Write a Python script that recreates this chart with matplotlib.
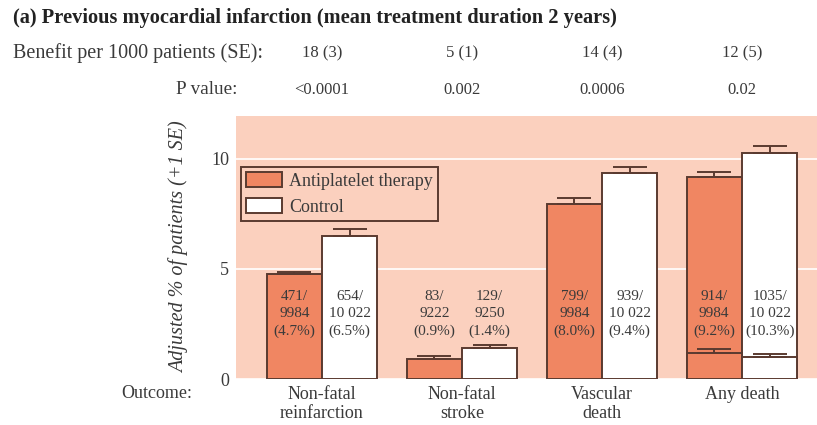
import numpy as np
import matplotlib.pyplot as plt

# values
categories = ['Non-fatal\nreinfarction', 'Non-fatal\nstroke', 'Vascular\ndeath', 'Any death']
benefit = ['18 (3)', '5 (1)', '14 (4)', '12 (5)']
p_values = ['<0.0001', '0.002', '0.0006', '0.02']
treat_pct = [4.77, 0.91, 7.95, 9.18]
treat_se = [0.11, 0.14, 0.29, 0.22]
ctrl_pct = [6.50, 1.42, 9.35, 10.29]
ctrl_se = [0.32, 0.13, 0.27, 0.31]
# non-vascular part of "any death"
nonvasc_treat = 1.17
nonvasc_treat_se = 0.18
nonvasc_ctrl = 0.99
nonvasc_ctrl_se = 0.13
treat_counts = ['471/\n9984\n(4.7%)', '83/\n9222\n(0.9%)', '799/\n9984\n(8.0%)', '914/\n9984\n(9.2%)']
ctrl_counts = ['654/\n10 022\n(6.5%)', '129/\n9250\n(1.4%)', '939/\n10 022\n(9.4%)', '1035/\n10 022\n(10.3%)']
yticks = [0, 5, 10]

bg = '#FBD0BE'
orange = '#F08662'
edge = '#5A3A30'
txt = '#3A3A3A'

plt.rcParams['font.family'] = ['Liberation Serif', 'DejaVu Serif']

fig = plt.figure(figsize=(8.17, 4.25), dpi=100)
ax = fig.add_axes([0.2889, 0.1082, 0.7111, 0.6189])
ax.set_facecolor(bg)

x = np.arange(len(categories))
w = 0.396
ax.bar(x - w / 2, treat_pct, w, color=orange, edgecolor=edge, linewidth=1.4, label='Antiplatelet therapy', zorder=3)
ax.bar(x + w / 2, ctrl_pct, w, color='white', edgecolor=edge, linewidth=1.4, label='Control', zorder=3)
ax.errorbar(x - w / 2, treat_pct, yerr=[np.zeros(len(x)), treat_se], fmt='none',
            ecolor=edge, elinewidth=1.4, capsize=12, capthick=1.4, zorder=4)
ax.errorbar(x + w / 2, ctrl_pct, yerr=[np.zeros(len(x)), ctrl_se], fmt='none',
            ecolor=edge, elinewidth=1.4, capsize=12, capthick=1.4, zorder=4)

# non-vascular segment inside the "any death" bars
ax.bar(x[3] - w / 2, nonvasc_treat, w, color=orange, edgecolor=edge, linewidth=1.4, zorder=3)
ax.bar(x[3] + w / 2, nonvasc_ctrl, w, color='white', edgecolor=edge, linewidth=1.4, zorder=3)
ax.errorbar([x[3] - w / 2, x[3] + w / 2], [nonvasc_treat, nonvasc_ctrl],
            yerr=[[0, 0], [nonvasc_treat_se, nonvasc_ctrl_se]], fmt='none',
            ecolor=edge, elinewidth=1.4, capsize=12, capthick=1.4, zorder=4)

for i in x:
    ax.text(i - w / 2, 2.95, treat_counts[i], ha='center', va='center', fontsize=11,
            color=txt, linespacing=1.45, zorder=5)
    ax.text(i + w / 2, 2.95, ctrl_counts[i], ha='center', va='center', fontsize=11,
            color=txt, linespacing=1.45, zorder=5)

ax.set_xlim(-0.614, 3.536)
ax.set_ylim(0, 11.95)
ax.set_yticks(yticks)
ax.set_yticklabels([str(t) for t in yticks], fontsize=13, color=txt)
ax.yaxis.grid(True, color='white', linewidth=1.2, zorder=1)
ax.set_axisbelow(True)
ax.tick_params(axis='y', length=0, pad=5)
ax.tick_params(axis='x', length=0, pad=5)
ax.set_xticks(x)
ax.set_xticklabels(categories, fontsize=13, color=txt, linespacing=1.15)
for s in ax.spines.values():
    s.set_visible(False)
ax.set_ylabel('Adjusted % of patients (+1 SE)', fontsize=14.5, style='italic', color=txt, labelpad=16)

leg = ax.legend(loc='upper left', bbox_to_anchor=(0.0086, 0.806), borderaxespad=0, fontsize=13,
                frameon=True, fancybox=False, handlelength=1.95, handleheight=0.9, borderpad=0.3,
                labelspacing=0.45, handletextpad=0.4)
leg.get_frame().set_facecolor(bg)
leg.get_frame().set_edgecolor(edge)
leg.get_frame().set_linewidth(1.4)
leg.get_frame().set_alpha(1)
for t in leg.get_texts():
    t.set_color(txt)

# header rows
fig.text(13 / 817, 1 - 18 / 425, '(a) Previous myocardial infarction (mean treatment duration 2 years)',
         fontsize=14.7, fontweight='bold', color='#222222', va='center')
fig.text(13 / 817, 1 - 53 / 425, 'Benefit per 1000 patients (SE):', fontsize=14.5, color=txt, va='center')
fig.text(237 / 817, 1 - 90 / 425, 'P value:', fontsize=13.8, color=txt, va='center', ha='right')
fig.text(192 / 817, 1 - 394 / 425, 'Outcome:', fontsize=13, color=txt, va='center', ha='right')
for i in x:
    xf = fig.transFigure.inverted().transform(ax.transData.transform((i, 0)))[0]
    fig.text(xf, 1 - 53 / 425, benefit[i], fontsize=12, color=txt, va='center', ha='center')
    fig.text(xf, 1 - 90 / 425, p_values[i], fontsize=12, color=txt, va='center', ha='center')

fig.savefig('out.png', dpi=100)
